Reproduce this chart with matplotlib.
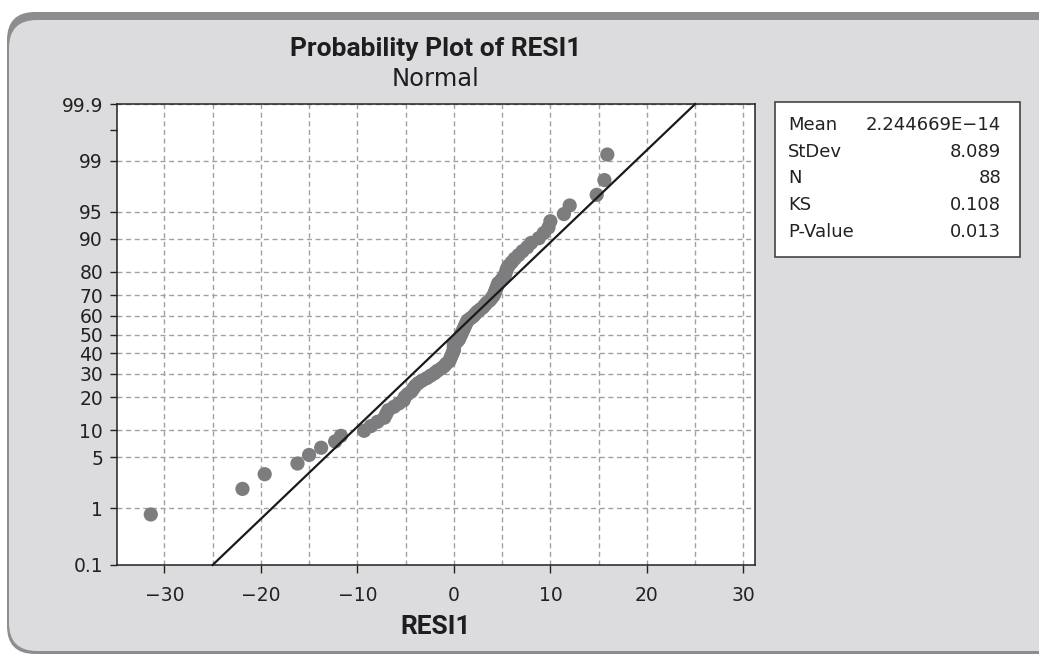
import numpy as np
import matplotlib
matplotlib.use("Agg")
import matplotlib.pyplot as plt
from matplotlib.patches import FancyBboxPatch, Rectangle
from matplotlib.transforms import IdentityTransform
from statistics import NormalDist

# sorted residuals (N = 88)
residuals = [
    -31.4, -21.9, -19.6, -16.2, -15.0, -13.75, -12.3, -11.7, -9.3, -8.6,
    -7.9, -7.2, -7.0, -6.8, -6.2, -5.7, -5.2, -5.1, -4.8, -4.4,
    -4.2, -4.0, -3.7, -3.3, -2.8, -2.4, -2.0, -1.7, -1.3, -1.0,
    -0.8, -0.5, -0.4, -0.3, -0.2, -0.1, 0.0, 0.0, 0.0, 0.0,
    0.3, 0.5, 0.6, 0.7, 0.8, 0.9, 1.0, 1.1, 1.2, 1.3,
    1.4, 1.7, 2.0, 2.2, 2.4, 2.7, 3.0, 3.2, 3.4, 3.7,
    3.9, 4.1, 4.2, 4.3, 4.4, 4.5, 4.6, 4.9, 5.1, 5.3,
    5.4, 5.5, 5.7, 6.0, 6.3, 6.7, 7.1, 7.6, 8.0, 8.8,
    9.3, 9.8, 10.0, 11.4, 12.0, 14.8, 15.6, 15.9,
]

mean_resid = 2.244669e-14
stdev_resid = 8.089
ks_stat = 0.108
p_value = 0.013

stat_labels = ["Mean", "StDev", "N", "KS", "P-Value"]
stat_values = ["2.244669E\u221214", "8.089", str(len(residuals)), "0.108", "0.013"]

pct_ticks = [0.1, 1, 5, 10, 20, 30, 40, 50, 60, 70, 80, 90, 95, 99, 99.9]
pct_tick_labels = ["0.1", "1", "5", "10", "20", "30", "40", "50", "60",
                   "70", "80", "90", "95", "99", "99.9"]
x_ticks = [-30, -20, -10, 0, 10, 20, 30]
x_grid_minor = [-25, -15, -5, 5, 15, 25]

W, H = 1039, 656
plt.rcParams['font.family'] = ['DejaVu Sans']

_nd = NormalDist()
_ppf = np.vectorize(lambda v: _nd.inv_cdf(v / 100.0), otypes=[float])
_cdf = np.vectorize(lambda v: _nd.cdf(v) * 100.0, otypes=[float])


def pct_to_z(p):
    p = np.clip(np.asarray(p, dtype=float), 1e-7, 100 - 1e-7)
    return _ppf(p)


def z_to_pct(z):
    return _cdf(np.asarray(z, dtype=float))


def fx(px):
    return px / W


def fy(py):
    return 1 - py / H


fig = plt.figure(figsize=(W / 100, H / 100), dpi=100)
fig.patch.set_facecolor('white')

# rounded grey panel with a darker rim on top / left
rim = FancyBboxPatch((7, 2), 1100, 642, boxstyle="round,pad=0,rounding_size=28",
                     transform=IdentityTransform(), fc='#8d8d8f', ec='none', zorder=0)
panel = FancyBboxPatch((9, 5), 1100, 631, boxstyle="round,pad=0,rounding_size=28",
                       transform=IdentityTransform(), fc='#dcdcde', ec='none', zorder=0)
fig.add_artist(rim)
fig.add_artist(panel)

ax = fig.add_axes([fx(117), fy(565), fx(755) - fx(117), (565 - 104) / H])
ax.set_facecolor('white')
ax.set_yscale('function', functions=(pct_to_z, z_to_pct))
ax.set_ylim(0.1, 99.9)
ax.set_xlim(-34.9, 31.2)

# median-rank plotting positions
n = len(residuals)
ranks = np.arange(1, n + 1)
pct = (ranks - 0.3) / (n + 0.4) * 100

fit = NormalDist(mean_resid, stdev_resid)
line_pct = [0.1, 99.9]
line_x = [fit.inv_cdf(p / 100) for p in line_pct]

ax.set_axisbelow(True)
ax.scatter(residuals, pct, s=105, color='#7d7d7f', edgecolors='none', zorder=3)
ax.plot(line_x, line_pct, color='#1a1a1a', lw=1.6, zorder=4, clip_on=False)

ax.set_xticks(x_ticks)
ax.set_xticks(x_grid_minor, minor=True)
ax.set_yticks(pct_ticks, labels=pct_tick_labels)
ax.set_yticks([99.7], minor=True)

dash = (0, (3.6, 2.6))
ax.grid(True, which='both', axis='x', color='#a0a0a0', lw=1.0, ls=dash)
ax.grid(True, which='major', axis='y', color='#a0a0a0', lw=1.0, ls=dash)

ax.tick_params(axis='x', which='major', length=6, width=1.0, pad=9,
               labelsize=13.5, color='#222222', labelcolor='#222222')
ax.tick_params(axis='x', which='minor', length=0)
ax.tick_params(axis='y', which='both', length=5, width=1.0, pad=5,
               labelsize=13.5, color='#222222', labelcolor='#222222')
for s in ax.spines.values():
    s.set_color('#222222')
    s.set_linewidth(1.1)

title_font = ['Roboto', 'DejaVu Sans']
fig.text(fx(436), fy(56), "Probability Plot of RESI1", ha='center', va='baseline',
         fontsize=19, fontweight='bold', family=title_font, color='#1e1e1e')
fig.text(fx(436), fy(86), "Normal", ha='center', va='baseline',
         fontsize=17.5, color='#1e1e1e')
fig.text(fx(436), fy(634), "RESI1", ha='center', va='baseline',
         fontsize=19, fontweight='bold', family=title_font, color='#1e1e1e')

# statistics box
box = Rectangle((fx(775), fy(257)), fx(1020) - fx(775), (257 - 102) / H,
                transform=fig.transFigure, fc='white', ec='#444444', lw=1.2, zorder=2)
fig.add_artist(box)
for k, (lab, val) in enumerate(zip(stat_labels, stat_values)):
    yb = fy(130 + k * 26.7)
    fig.text(fx(788), yb, lab, ha='left', va='baseline', fontsize=13, color='#222222', zorder=3)
    fig.text(fx(1001), yb, val, ha='right', va='baseline', fontsize=13, color='#222222', zorder=3)

fig.savefig("out.png", dpi=100)
